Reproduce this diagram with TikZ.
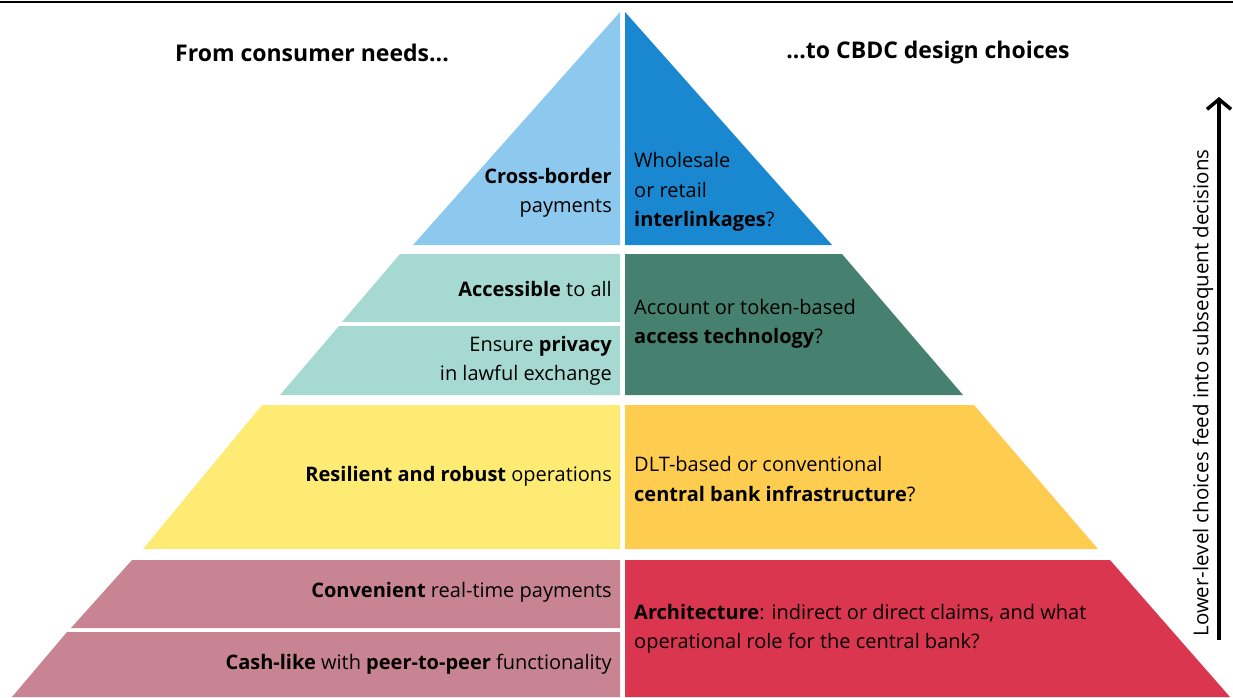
\documentclass[tikz,border=0pt]{standalone}
\usepackage{fontspec}
\setmainfont{Open Sans}
\usetikzlibrary{arrows.meta}
\definecolor{lblue}{HTML}{8DC8EE}
\definecolor{dblue}{HTML}{1A88D0}
\definecolor{lteal}{HTML}{A5D9D2}
\definecolor{dteal}{HTML}{46806E}
\definecolor{lyell}{HTML}{FEEB74}
\definecolor{dyell}{HTML}{FECD50}
\definecolor{lpink}{HTML}{C88492}
\definecolor{dred}{HTML}{DB364F}
\begin{document}
\begin{tikzpicture}[x=1pt,y=-1pt,
  txt/.style={font=\fontsize{20}{29.5}\selectfont, inner sep=0pt, text=black},
  lft/.style={txt, anchor=east, align=right},
  rgt/.style={txt, anchor=west, align=left},
  head/.style={font=\fontsize{23}{27}\selectfont\bfseries, inner sep=0pt},
  tier/.style={draw=none}]
\useasboundingbox (0,0) rectangle (1233,697);
\draw[line width=2pt] (0,2) -- (1233,2);
% tier 1
\fill[lblue] (620,12) -- (620,245) -- (413,245) -- cycle;
\fill[dblue] (625,12) -- (832,245) -- (625,245) -- cycle;
% tier 2
\fill[lteal] (400,254) -- (620,254) -- (620,322) -- (342,322) -- cycle;
\fill[lteal] (339,326) -- (620,326) -- (620,395) -- (280,395) -- cycle;
\fill[dteal] (625,254) -- (842,254) -- (963,395) -- (625,395) -- cycle;
% tier 3
\fill[lyell] (262,405) -- (620,405) -- (620,549) -- (143,549) -- cycle;
\fill[dyell] (625,405) -- (974,405) -- (1098,549) -- (625,549) -- cycle;
% tier 4
\fill[lpink] (132,560) -- (620,560) -- (620,628) -- (71,628) -- cycle;
\fill[lpink] (67,632) -- (620,632) -- (620,697) -- (12,697) -- cycle;
\fill[dred] (625,560) -- (1110,560) -- (1230,697) -- (625,697) -- cycle;
% headers
\node[head] (hl) at (312,53) {From consumer needs...};
\node[head] (hr) at (928,53) {...to CBDC design choices};
% texts
\node[lft] (t1l) at (612,193) {\textbf{Cross-border}\\payments};
\node[rgt] (t1r) at (634,192) {Wholesale\\or retail\\\textbf{interlinkages}?};
\node[lft] (t2a) at (612,289) {\textbf{Accessible} to all};
\node[lft] (t2b) at (612,361) {Ensure \textbf{privacy}\\in lawful exchange};
\node[rgt] (t2r) at (634,324) {Account or token-based\\\textbf{access technology}?};
\node[lft] (t3l) at (612,476) {\textbf{Resilient and robust} operations};
\node[rgt] (t3r) at (634,479) {DLT-based or conventional\\\textbf{central bank infrastructure}?};
\node[lft] (t4a) at (612,592) {\textbf{Convenient} real-time payments};
\node[lft] (t4b) at (612,664) {\textbf{Cash-like} with \textbf{peer-to-peer} functionality};
\node[rgt] (t4r) at (634,629) {\textbf{Architecture}: indirect or direct claims, and what\\operational role for the central bank?};
% arrow
\coordinate (abot) at (1219,640);
\coordinate (atop) at (1219,97);
\draw[line width=3.5pt, -{Straight Barb[length=10pt,width=24pt]}] (abot) -- (atop);
\node[font=\fontsize{20.5}{24}\selectfont, rotate=90, inner sep=0pt] (alab) at (1203,393) {Lower-level choices feed into subsequent decisions};
\end{tikzpicture}
\end{document}
